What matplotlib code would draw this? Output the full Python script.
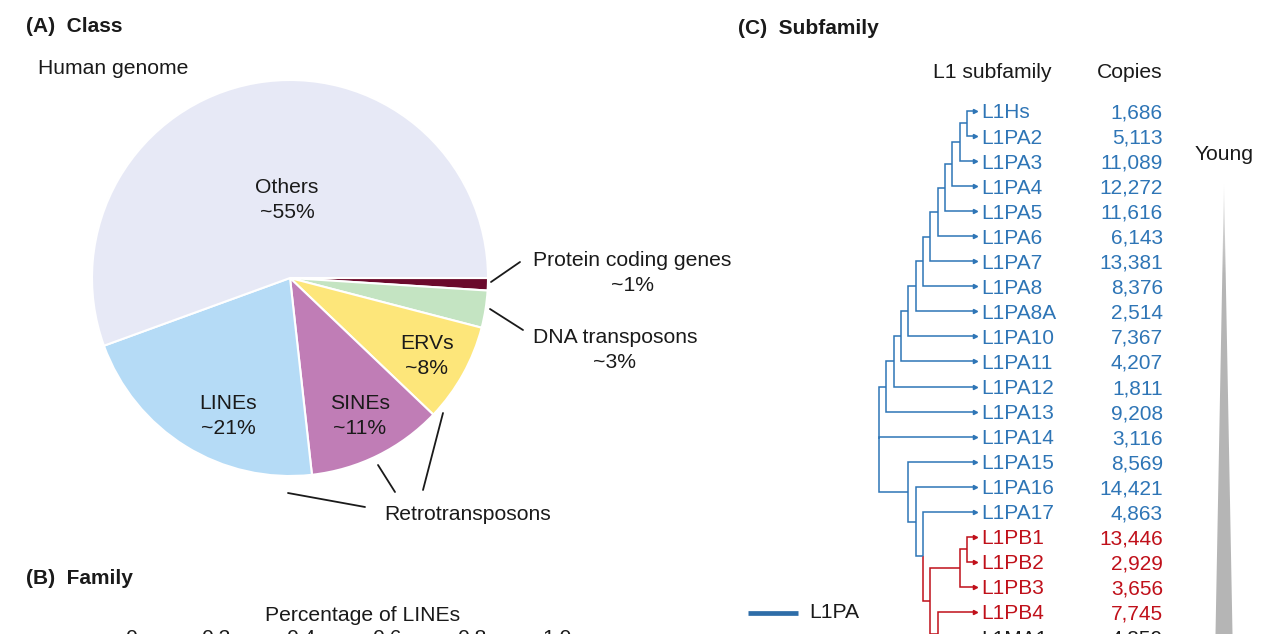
import matplotlib
matplotlib.use('Agg')
import matplotlib.pyplot as plt
import numpy as np
from matplotlib.transforms import blended_transform_factory
from matplotlib.patches import Polygon

plt.rcParams['font.family'] = ['Liberation Sans', 'DejaVu Sans']

W, H, DPI = 1268, 634, 100
TXT = '#1a1a1a'
FS = 15.2
LS = 1.45

# ---------------- data ----------------
# Panel A: class composition of the human genome (clockwise from 3 o'clock)
class_names = ['Protein coding genes', 'DNA transposons', 'ERVs', 'SINEs', 'LINEs', 'Others']
class_pct = [1, 3, 8, 11, 21, 55]
class_colors = ['#6B0A2C', '#C4E4C2', '#FDE67A', '#C07DB6', '#B5DBF6', '#E7E9F6']

# Panel B: axis ticks
b_ticks = [0, 0.2, 0.4, 0.6, 0.8, 1.0]
b_ticklabels = ['0', '0.2', '0.4', '0.6', '0.8', '1.0']

# Panel C: L1 subfamilies
subfamilies = ['L1Hs', 'L1PA2', 'L1PA3', 'L1PA4', 'L1PA5', 'L1PA6', 'L1PA7', 'L1PA8',
               'L1PA8A', 'L1PA10', 'L1PA11', 'L1PA12', 'L1PA13', 'L1PA14', 'L1PA15',
               'L1PA16', 'L1PA17', 'L1PB1', 'L1PB2', 'L1PB3', 'L1PB4', 'L1MA1',
               'L1MA2', 'L1MA3']
copies = [1686, 5113, 11089, 12272, 11616, 6143, 13381, 8376, 2514, 7367, 4207, 1811,
          9208, 3116, 8569, 14421, 4863, 13446, 2929, 3656, 7745, 4859, None, None]
groups = ['L1PA'] * 17 + ['L1PB'] * 4 + ['L1MA'] * 3
group_colors = {'L1PA': '#2E75B6', 'L1PB': '#C0101A', 'L1MA': '#1a1a1a'}

# tree topology: (node level, [children]) ; leaves are names (level 0)
tree = (13, [
    (12, [(11, [(10, [(9, [(8, [(7, [(6, [(5, [(4, [(3, [(2, [(1, ['L1Hs', 'L1PA2']),
        'L1PA3']), 'L1PA4']), 'L1PA5']), 'L1PA6']), 'L1PA7']), 'L1PA8']), 'L1PA8A']),
        'L1PA10']), 'L1PA11']), 'L1PA12']), 'L1PA13']),
    'L1PA14',
    (9, ['L1PA15', (8, ['L1PA16', (7, ['L1PA17',
        (6, [(2, [(1, ['L1PB1', 'L1PB2']), 'L1PB3']),
             (5, ['L1PB4', (3, ['L1MA1', (2, ['L1MA2', 'L1MA3'])])])])])])]),
])

# ---------------- figure ----------------
fig = plt.figure(figsize=(W / DPI, H / DPI), dpi=DPI)

# overlay in pixel coordinates for annotations
ov = fig.add_axes([0, 0, 1, 1], zorder=5)
ov.set_xlim(0, W)
ov.set_ylim(H, 0)
ov.axis('off')
ov.patch.set_alpha(0)

# ---- Panel A: pie ----
cx, cy, r = 290, 278, 198
ax_pie = fig.add_axes([(cx - r) / W, (H - cy - r) / H, 2 * r / W, 2 * r / H])
ax_pie.pie(class_pct, colors=class_colors, startangle=0, counterclock=False,
           wedgeprops=dict(edgecolor='white', linewidth=1.5))
ax_pie.set_xlim(-1, 1)
ax_pie.set_ylim(-1, 1)
ax_pie.axis('off')

ov.text(26, 27, '(A)  Class', fontsize=15, fontweight='bold', color=TXT, va='center')
ov.text(38, 69, 'Human genome', fontsize=FS, color=TXT, va='center')
kw = dict(fontsize=FS, color=TXT, ha='center', va='center', linespacing=LS)
ov.text(287, 200, 'Others\n~55%', **kw)
ov.text(228, 416, 'LINEs\n~21%', **kw)
ov.text(360, 416, 'SINEs\n~11%', **kw)
ov.text(427, 356, 'ERVs\n~8%', **kw)
ov.text(632, 273, 'Protein coding genes\n~1%', **kw)
ov.text(615, 350, 'DNA transposons\n~3%', **kw)
ov.text(468, 515, 'Retrotransposons', fontsize=FS, color=TXT, ha='center', va='center')
leader = dict(arrowstyle='-', color=TXT, lw=1.3, shrinkA=0, shrinkB=0)
for a, b in [((520, 262), (491, 282)), ((523, 330), (490, 309)),
             ((365, 507), (288, 493)), ((395, 492), (378, 465)), ((423, 490), (443, 413))]:
    ov.annotate('', xy=b, xytext=a, arrowprops=leader)

# ---- Panel B ----
ov.text(26, 578, '(B)  Family', fontsize=15, fontweight='bold', color=TXT, va='center')
b_left, b_w, b_top = 131, 464, 658
ax_b = fig.add_axes([b_left / W, (H - b_top) / H - 0.3, b_w / W, 0.3])
ax_b.set_xlim(0, 1.09)
ax_b.xaxis.tick_top()
ax_b.xaxis.set_label_position('top')
ax_b.set_xticks(b_ticks)
ax_b.set_xticklabels(b_ticklabels)
ax_b.tick_params(axis='x', labelsize=FS, colors=TXT, length=4, pad=3)
ax_b.set_yticks([])
for s in ['left', 'right', 'bottom']:
    ax_b.spines[s].set_visible(False)
ax_b.set_xlabel('Percentage of LINEs', fontsize=FS, color=TXT, labelpad=6)

# ---- Panel C: tree ----
ov.text(738, 28, '(C)  Subfamily', fontsize=15, fontweight='bold', color=TXT, va='center')
ov.text(992, 72, 'L1 subfamily', fontsize=FS, color=TXT, ha='center', va='center')
ov.text(1130, 72, 'Copies', fontsize=FS, color=TXT, ha='center', va='center')

ax_t = fig.add_axes([0, 0, 1, 1], zorder=4)
ax_t.set_xlim(132.6, -39.93)
ax_t.set_ylim(20.88, -4.43)
ax_t.axis('off')
ax_t.patch.set_alpha(0)

row_of = {n: i for i, n in enumerate(subfamilies)}
col_of = {n: group_colors[g] for n, g in zip(subfamilies, groups)}


def layout(node):
    """returns (level, y, color)"""
    if isinstance(node, str):
        return 0, row_of[node], col_of[node]
    lvl, children = node
    info = [layout(c) for c in children]
    y = (info[0][1] + info[-1][1]) / 2
    for (cl, cyy, cc) in info:
        ax_t.plot([lvl, lvl, cl], [y, cyy, cyy], color=cc, lw=1.1,
                  solid_capstyle='butt', solid_joinstyle='miter')
    return lvl, y, info[0][2]


layout(tree)
for n in subfamilies:
    ax_t.plot(0, row_of[n], marker='>', ms=3.0, color=col_of[n], mec=col_of[n])

tr = blended_transform_factory(ov.transData, ax_t.transData)
for n, c in zip(subfamilies, copies):
    ov.text(981, row_of[n], n, transform=tr, fontsize=15, color=col_of[n],
            va='center_baseline')
    if c is not None:
        ov.text(1163, row_of[n], f'{c:,}', transform=tr, fontsize=15, color=col_of[n],
                va='center_baseline', ha='right')

# age wedge
ov.text(1224, 155, 'Young', fontsize=FS, color=TXT, ha='center', va='center')
apex_y, slope = 184, 8.5 / 450
y_end = 900
hw = slope * (y_end - apex_y)
wedge = Polygon([[1224, apex_y], [1224 + hw, y_end], [1224 - hw, y_end]], closed=True,
                facecolor='none', edgecolor='none')
ov.add_patch(wedge)
grad = np.linspace(0, 1, 400)
shade = np.clip((grad * (y_end - apex_y)) / 90.0, 0, 1)
val = 0.93 - (0.93 - 0.71) * shade
img = np.dstack([val, val, val]).reshape(400, 1, 3)
im = ov.imshow(img, extent=[1224 - hw, 1224 + hw, y_end, apex_y], aspect='auto',
               interpolation='bilinear', zorder=3)
im.set_clip_path(wedge)
ov.set_xlim(0, W)
ov.set_ylim(H, 0)

# legend (L1PA)
ov.plot([748, 798], [613, 613], color='#2E6DA8', lw=3.4, solid_capstyle='butt')
ov.text(809, 612, 'L1PA', fontsize=FS, color=TXT, va='center')

fig.savefig('out.png', dpi=DPI)
